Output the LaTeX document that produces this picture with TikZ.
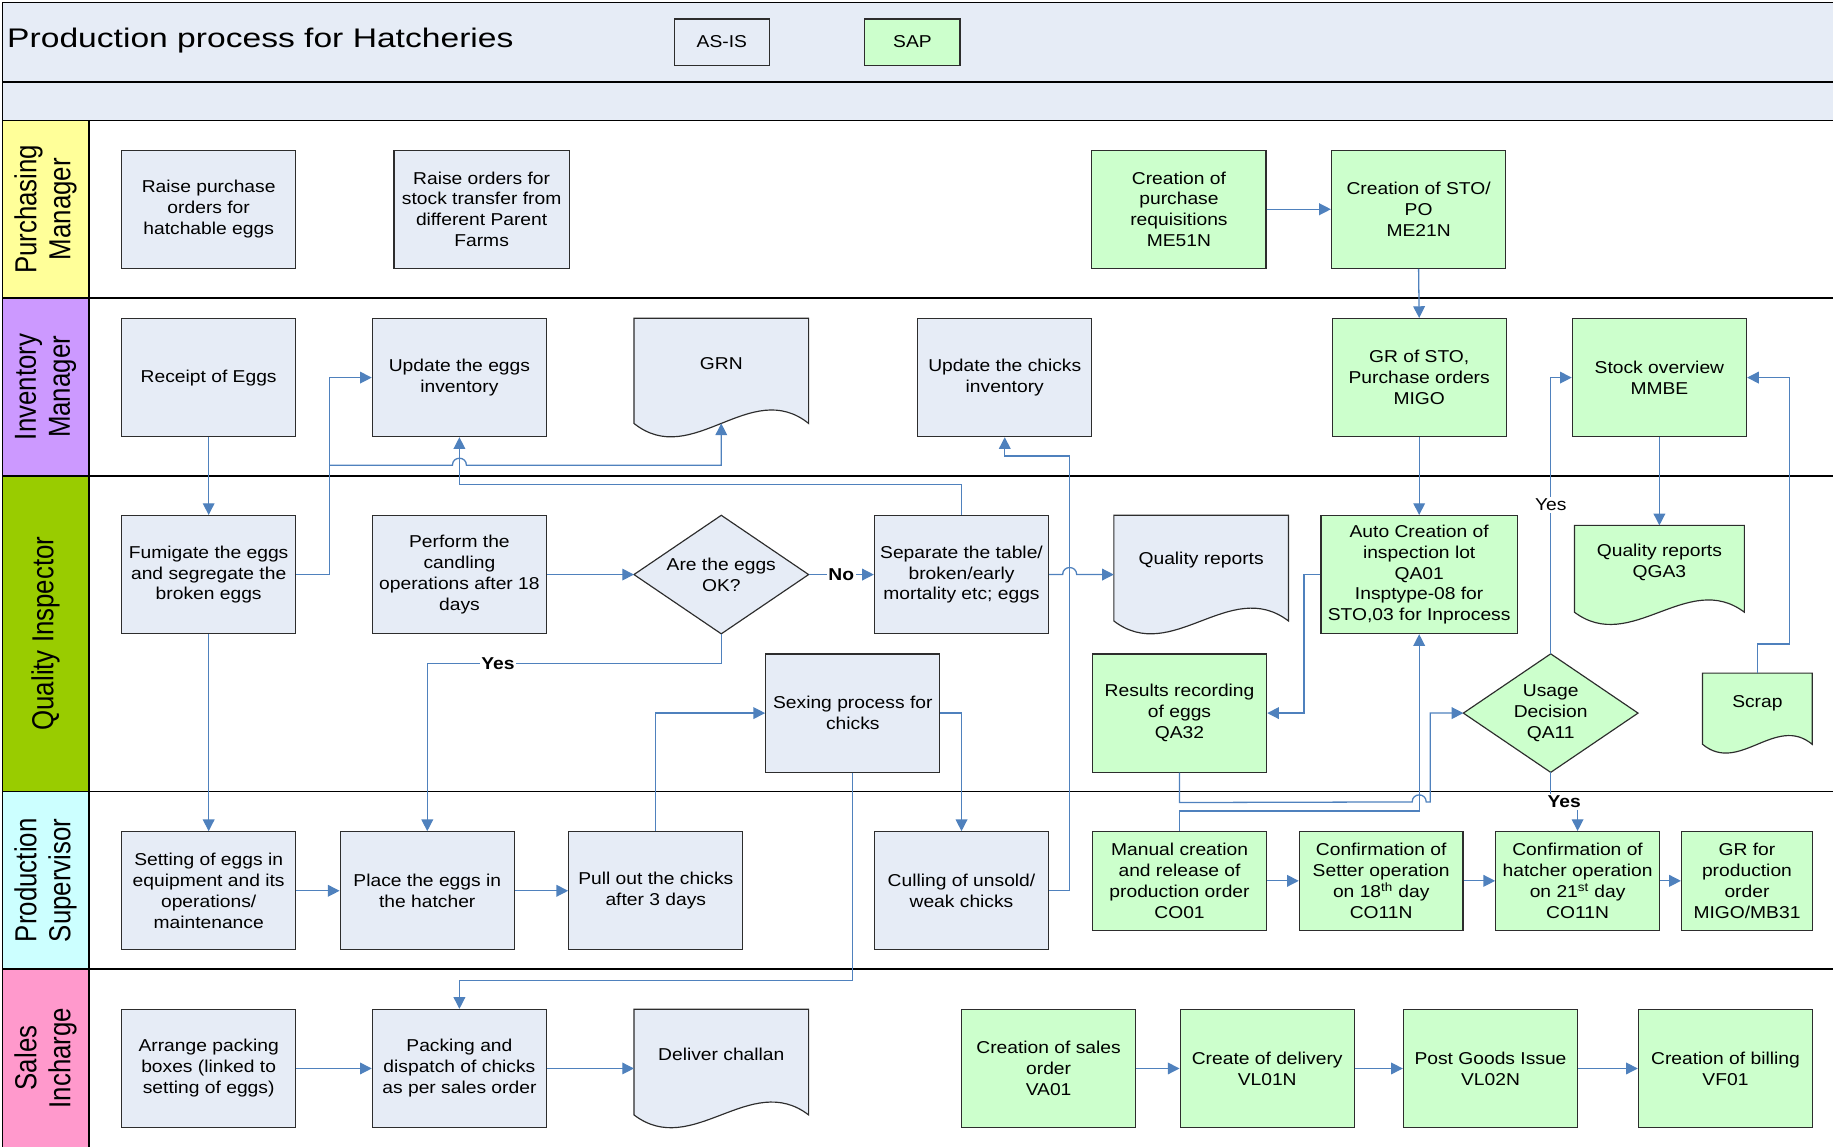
\documentclass[tikz,border=0pt]{standalone}
\usepackage{fontspec}
\setmainfont{Liberation Sans}
\newfontfamily\bodyf[FakeStretch=1.12]{Liberation Sans}
\newfontfamily\titlef[FakeStretch=1.25]{Liberation Sans}
\newfontfamily\lanef[FakeStretch=0.85]{Liberation Sans}
\usetikzlibrary{arrows.meta,calc}
\definecolor{asis}{RGB}{230,236,246}
\definecolor{sapg}{RGB}{204,255,204}
\definecolor{conc}{RGB}{79,129,189}
\definecolor{lpur}{RGB}{255,255,153}
\definecolor{linv}{RGB}{204,153,255}
\definecolor{lqua}{RGB}{153,204,0}
\definecolor{lpro}{RGB}{204,255,255}
\definecolor{lsal}{RGB}{255,153,204}
\definecolor{edgec}{RGB}{45,45,45}
\newcommand\docwave[3]{%
\filldraw[shp, fill=#3] (#1.north west) -- (#1.north east) -- ($(#1.south east)+(0,-#2)$)
 .. controls ($(#1.south west)!2/3!(#1.south east)+(0,-4.46*#2)$) and ($(#1.south west)!1/3!(#1.south east)+(0,2.46*#2)$) .. ($(#1.south west)+(0,-#2)$) -- cycle;}
\newcommand\diapath[2]{%
\filldraw[shp, fill=#2] (#1.north) -- (#1.east) -- (#1.south) -- (#1.west) -- cycle;}
\begin{document}
\begin{tikzpicture}[x=1pt,y=-1pt,
  bx/.style={draw=edgec, line width=1pt, fill=asis, minimum width=149pt, minimum height=101pt, inner sep=2pt, align=center, font=\bodyf\fontsize{14.7}{17.9}\selectfont},
  sapbox/.style={bx, fill=sapg},
  ghostbox/.style={draw=none, fill=none, inner sep=0pt, minimum width=149pt, minimum height=101pt},
  txt/.style={inner sep=0pt, align=center, font=\bodyf\fontsize{14.7}{17.9}\selectfont},
  shp/.style={draw=edgec, line width=1pt},
  cn/.style={draw=conc, line width=1.1pt, -{Triangle[length=10pt,width=10pt]}},
  lab/.style={fill=white, inner sep=1.5pt, font=\bodyf\bfseries\fontsize{14.7}{17}\selectfont},
  labn/.style={fill=white, inner sep=1.5pt, font=\bodyf\fontsize{14.7}{17}\selectfont},
  lanetxt/.style={rotate=90, align=center, inner sep=0pt, font=\lanef\fontsize{26}{29}\selectfont},
  laneline/.style={draw=black, line width=1.4pt}
]
\useasboundingbox (0,0) rectangle (1568,981);
% header and lane colours
\fill[asis] (2,2) rectangle (1568,103);
\fill[lpur] (2,103) rectangle (76,255);
\fill[linv] (2,255) rectangle (76,407);
\fill[lqua] (2,407) rectangle (76,677);
\fill[lpro] (2,677) rectangle (76,829);
\fill[lsal] (2,829) rectangle (76,981);
\foreach \yy in {2,70,103,255,407,677,829} \draw[laneline] (2,\yy) -- (1568,\yy);
\draw[laneline] (2,2) -- (2,981);
\draw[laneline] (76,103) -- (76,981);
% header
\node[anchor=base west, inner sep=0pt, font=\titlef\fontsize{23}{27}\selectfont] (title) at (6,41) {Production process for Hatcheries};
\node[bx, minimum width=81.5pt, minimum height=39.5pt] (asiskey) at (617.5,36) {AS-IS};
\node[sapbox, minimum width=81.5pt, minimum height=39.5pt] (sapkey) at (780.5,36) {SAP};
% lane labels
\node[lanetxt] (L1) at (39,179) {Purchasing\\Manager};
\node[lanetxt] (L2) at (39,331) {Inventory\\Manager};
\node[lanetxt] (L3) at (39,542) {Quality Inspector};
\node[lanetxt] (L4) at (39,753) {Production\\Supervisor};
\node[lanetxt] (L5) at (39,905) {Sales\\Incharge};
% Purchasing
\node[bx] (P1) at (178.5,179) {Raise purchase\\orders for\\hatchable eggs};
\node[bx, minimum width=150pt] (P2) at (412,179) {Raise orders for\\stock transfer from\\different Parent\\Farms};
\node[sapbox] (P3) at (1008.5,179) {Creation of\\purchase\\requisitions\\ME51N};
\node[sapbox] (P4) at (1213.5,179) {Creation of STO/\\PO\\ME21N};
% Inventory
\node[bx] (I1) at (178.5,323) {Receipt of Eggs};
\node[bx] (I2) at (393,323) {Update the eggs\\inventory};
\node[ghostbox] (I3) at (617,323) {};
\docwave{I3}{11.5}{asis}
\node[txt] (I3t) at (617,311) {GRN};
\node[bx] (I4) at (859.5,323) {Update the chicks\\inventory};
\node[sapbox] (I5) at (1214,323) {GR of STO,\\Purchase orders\\MIGO};
\node[sapbox] (I6) at (1419.5,323) {Stock overview\\MMBE};
% Quality
\node[bx] (Q1) at (178.5,491.5) {Fumigate the eggs\\and segregate the\\broken eggs};
\node[bx] (Q2) at (393,491.5) {Perform the\\candling\\operations after 18\\days};
\node[ghostbox] (Q3) at (617,491.5) {};
\diapath{Q3}{asis}
\node[txt] (Q3t) at (617,491.5) {Are the eggs\\OK?};
\node[bx] (Q4) at (822.5,491.5) {Separate the table/\\broken/early\\mortality etc; eggs};
\node[ghostbox] (Q5) at (1027.5,491.5) {};
\docwave{Q5}{11}{asis}
\node[txt] (Q5t) at (1027.5,479) {Quality reports};
\node[sapbox, minimum width=168pt] (Q6) at (1214,491.5) {Auto Creation of\\inspection lot\\QA01\\Insptype-08 for\\STO,03 for Inprocess};
\node[ghostbox, minimum width=145pt, minimum height=84.4pt] (Q7) at (1419.5,491.8) {};
\docwave{Q7}{10.5}{sapg}
\node[txt] (Q7t) at (1419.5,481) {Quality reports\\QGA3};
\node[bx] (Q8) at (729.5,610) {Sexing process for\\chicks};
\node[sapbox] (Q9) at (1009,610) {Results recording\\of eggs\\QA32};
\node[ghostbox] (Q10) at (1326.5,610) {};
\diapath{Q10}{sapg}
\node[txt] (Q10t) at (1326.5,610) {Usage\\Decision\\QA11};
\node[ghostbox, minimum width=93.4pt, minimum height=68pt] (Q11) at (1503.3,610) {};
\docwave{Q11}{7.5}{sapg}
\node[txt] (Q11t) at (1503.3,602) {Scrap};
% Production
\node[bx] (S1) at (178.5,762) {Setting of eggs in\\equipment and its\\operations/\\maintenance};
\node[bx] (S2) at (365.5,762) {Place the eggs in\\the hatcher};
\node[bx] (S3) at (561,762) {Pull out the chicks\\after 3 days};
\node[bx] (S4) at (822.5,762) {Culling of unsold/\\weak chicks};
\node[sapbox, minimum height=84.3pt] (S5) at (1009,753.5) {Manual creation\\and release of\\production order\\CO01};
\node[sapbox, minimum width=140pt, minimum height=84.3pt] (S6) at (1181.5,753.5) {Confirmation of\\Setter operation\\on 18\textsuperscript{th} day\\CO11N};
\node[sapbox, minimum width=140pt, minimum height=84.3pt] (S7) at (1349.5,753.5) {Confirmation of\\hatcher operation\\on 21\textsuperscript{st} day\\CO11N};
\node[sapbox, minimum width=112pt, minimum height=84.3pt] (S8) at (1494.4,753.5) {GR for\\production\\order\\MIGO/MB31};
% Sales
\node[bx] (T1) at (178.5,914) {Arrange packing\\boxes (linked to\\setting of eggs)};
\node[bx] (T2) at (393,914) {Packing and\\dispatch of chicks\\as per sales order};
\node[ghostbox] (T3) at (617,914) {};
\docwave{T3}{11}{asis}
\node[txt] (T3t) at (617,902) {Deliver challan};
\node[sapbox] (T4) at (897,914) {Creation of sales\\order\\VA01};
\node[sapbox] (T5) at (1084,914) {Create of delivery\\VL01N};
\node[sapbox] (T6) at (1275,914) {Post Goods Issue\\VL02N};
\node[sapbox] (T7) at (1476,914) {Creation of billing\\VF01};
% connectors
\draw[cn] (P3.east) -- (P4.west);
\draw[cn] (P4.south) -- (I5.north);
\draw[cn] (I1.south) -- (Q1.north);
\draw[cn] (Q1.east) -- (282,491.5) |- (I2.west);
\coordinate (br) at (282,398);
\draw[cn] (br) -- (387,398) .. controls (387,390) and (399,390) .. (399,398) -| ($(I3.south)+(0,-11.5)$);
\draw[cn] (Q4.north) -- ++(0,-26) -| (I2.south);
\draw[cn] (Q2.east) -- (Q3.west);
\draw[cn] (Q3.east) -- (Q4.west) node[lab, midway] (no1) {No};
\draw[cn] (Q3.south) -- ++(0,25.5) -| (S2.north);
\node[lab] (yes1) at (426,567.5) {Yes};
\draw[cn] (Q4.east) -- (909,491.5) .. controls (909,483.5) and (921,483.5) .. (921,491.5) -- (Q5.west);
\draw[cn] (S4.east) -- (915,762) -- (915,390) -| (I4.south);
\draw[cn] (Q8.east) -| (S4.north);
\draw[cn] (S3.north) |- (Q8.west);
\draw[cn] (Q8.south) -- ++(0,177.5) -| (T2.north);
\draw[cn] (Q1.south) -- (S1.north);
\draw[cn] (S1.east) -- (S2.west);
\draw[cn] (S2.east) -- (S3.west);
\draw[cn] (T1.east) -- (T2.west);
\draw[cn] (T2.east) -- (T3.west);
\draw[cn] (T4.east) -- (T5.west);
\draw[cn] (T5.east) -- (T6.west);
\draw[cn] (T6.east) -- (T7.west);
\draw[cn] (S5.east) -- (S6.west);
\draw[cn] (S6.east) -- (S7.west);
\draw[cn] (S7.east) -- (S8.west);
\draw[cn] (I5.south) -- (Q6.north);
\draw[cn] (Q6.west) -- ++(-14,0) |- (Q9.east);
\draw[cn] (Q9.south) -- ++(0,25.5) -- (1208,686) .. controls (1208,678) and (1220,678) .. (1220,686) -- (1223.5,686) |- (Q10.west);
\draw[cn] (S5.north) -- ++(0,-17) -| (Q6.south);
\draw[cn] (Q10.north) |- (I6.west);
\node[labn] (yes2) at (1326.5,432) {Yes};
\draw[cn] (Q10.south) -- ++(0,25.5) -| (S7.north);
\node[lab] (yes3) at (1338,686) {Yes};
\draw[cn] (I6.south) -- (Q7.north);
\draw[cn] (Q11.north) -- (1503.3,551) -- (1531,551) |- (I6.east);
\end{tikzpicture}
\end{document}
